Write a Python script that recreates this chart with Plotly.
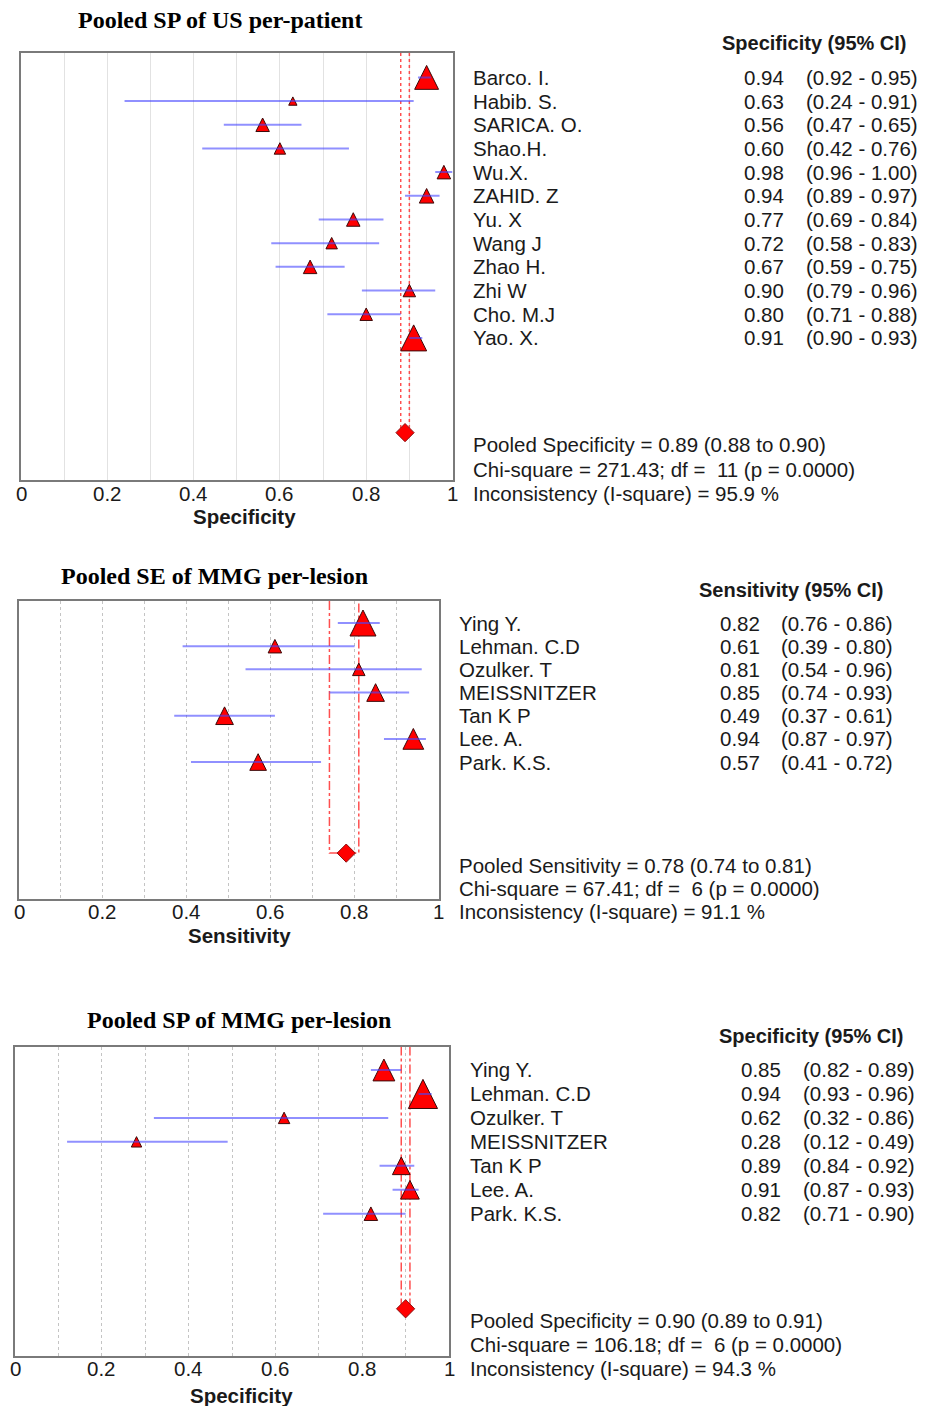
import plotly.graph_objects as go

W, H = 930, 1406

# ---------------- data ----------------
p1_names = ["Barco. I.", "Habib. S.", "SARICA. O.", "Shao.H.", "Wu.X.", "ZAHID. Z",
            "Yu. X", "Wang J", "Zhao H.", "Zhi W", "Cho. M.J", "Yao. X."]
p1_est = [0.94, 0.63, 0.56, 0.60, 0.98, 0.94, 0.77, 0.72, 0.67, 0.90, 0.80, 0.91]
p1_lo = [0.92, 0.24, 0.47, 0.42, 0.96, 0.89, 0.69, 0.58, 0.59, 0.79, 0.71, 0.90]
p1_hi = [0.95, 0.91, 0.65, 0.76, 1.00, 0.97, 0.84, 0.83, 0.75, 0.96, 0.88, 0.93]
p1_weight = [23, 8, 13, 11, 13, 14, 13, 11, 13, 12, 12, 25]
p1_pooled = [0.89, 0.88, 0.90]
p1_chi = ["271.43", "11", "0.0000"]
p1_isq = "95.9"

p2_names = ["Ying Y.", "Lehman. C.D", "Ozulker. T", "MEISSNITZER", "Tan K P", "Lee. A.", "Park. K.S."]
p2_est = [0.82, 0.61, 0.81, 0.85, 0.49, 0.94, 0.57]
p2_lo = [0.76, 0.39, 0.54, 0.74, 0.37, 0.87, 0.41]
p2_hi = [0.86, 0.80, 0.96, 0.93, 0.61, 0.97, 0.72]
p2_weight = [25, 13, 12, 17, 17, 20, 16]
p2_pooled = [0.78, 0.74, 0.81]
p2_chi = ["67.41", "6", "0.0000"]
p2_isq = "91.1"

p3_names = ["Ying Y.", "Lehman. C.D", "Ozulker. T", "MEISSNITZER", "Tan K P", "Lee. A.", "Park. K.S."]
p3_est = [0.85, 0.94, 0.62, 0.28, 0.89, 0.91, 0.82]
p3_lo = [0.82, 0.93, 0.32, 0.12, 0.84, 0.87, 0.71]
p3_hi = [0.89, 0.96, 0.86, 0.49, 0.92, 0.93, 0.90]
p3_weight = [21, 28, 11, 10, 17, 18, 13]
p3_pooled = [0.90, 0.89, 0.91]
p3_chi = ["106.18", "6", "0.0000"]
p3_isq = "94.3"

tick_vals = [0, 0.2, 0.4, 0.6, 0.8, 1]
tick_text = ["0", "0.2", "0.4", "0.6", "0.8", "1"]

# ---------------- layout config ----------------
panels = [
    dict(title="Pooled SP of US per-patient", measure="Specificity",
         names=p1_names, est=p1_est, lo=p1_lo, hi=p1_hi, wt=p1_weight,
         pooled=p1_pooled, chi=p1_chi, isq=p1_isq,
         box=(21, 452.5, 53, 480), yr=(17.0, -1.03), pooled_row=15.0,
         title_xy=(220, 20.5), tick_y=493, axtitle_xy=(244.5, 517), header_xy=(720.7, 43.3),
         names_x=472, val_x=743, ci_x=805, foot_y=[445, 469, 493],
         grid="solid", pdash="dot", bracket=False),
    dict(title="Pooled SE of MMG per-lesion", measure="Sensitivity",
         names=p2_names, est=p2_est, lo=p2_lo, hi=p2_hi, wt=p2_weight,
         pooled=p2_pooled, chi=p2_chi, isq=p2_isq,
         box=(19, 438.5, 601, 899), yr=(11.91, -0.95), pooled_row=9.93,
         title_xy=(214, 576), tick_y=911.7, axtitle_xy=(239, 935.5), header_xy=(698, 590),
         names_x=458, val_x=719, ci_x=780, foot_y=[865, 888.5, 911.7],
         grid="dot", pdash="dashdot", bracket=True),
    dict(title="Pooled SP of MMG per-lesion", measure="Specificity",
         names=p3_names, est=p3_est, lo=p3_lo, hi=p3_hi, wt=p3_weight,
         pooled=p3_pooled, chi=p3_chi, isq=p3_isq,
         box=(15, 449, 1046.5, 1356), yr=(11.94, -0.98), pooled_row=9.97,
         title_xy=(239, 1020), tick_y=1368.5, axtitle_xy=(241.5, 1395), header_xy=(717.7, 1035.7),
         names_x=469, val_x=740, ci_x=801.7, foot_y=[1320.5, 1344, 1368],
         grid="dot", pdash="dashdot", bracket=False),
]

SANS = "Liberation Sans, Arial, sans-serif"
SERIF = "Liberation Serif, Times New Roman, serif"
TXT = "#1a1a1a"
FS = 20.5

def px(x):
    return x / W

def py(y):
    return 1 - y / H

fig = go.Figure()
annotations = []

for k, p in enumerate(panels, start=1):
    xa = "x" if k == 1 else f"x{k}"
    ya = "y" if k == 1 else f"y{k}"
    n = len(p["names"])
    rows = list(range(n))
    x0, x1, y0, y1 = p["box"]
    yb, yt = p["yr"]
    plot_w = x1 - x0
    row_px = (y1 - y0) / (yb - yt)

    # pooled CI vertical lines
    pe, plo, phi = p["pooled"]
    if p["bracket"]:
        vx = [plo, plo, phi, phi]
        vy = [yt, p["pooled_row"], p["pooled_row"], yt]
    else:
        vx = [plo, plo, None, phi, phi]
        vy = [yt, p["pooled_row"], None, yt, p["pooled_row"]]
    fig.add_trace(go.Scatter(x=vx, y=vy, mode="lines", xaxis=xa, yaxis=ya,
                             line=dict(color="rgba(255,60,60,0.9)", width=1.5, dash=p["pdash"]),
                             hoverinfo="skip", showlegend=False))

    # study triangles (size ~ study weight, drawn in axis units)
    tx, ty = [], []
    for i in rows:
        w = p["wt"][i] * 1.04
        dx = (w / 2) / plot_w
        dy = (w / 2) / row_px
        e = p["est"][i]
        tx += [e - dx, e + dx, e, e - dx, None]
        ty += [i + dy, i + dy, i - dy, i + dy, None]
    fig.add_trace(go.Scatter(x=tx, y=ty, mode="lines", fill="toself", xaxis=xa, yaxis=ya,
                             fillcolor="#ff0000", line=dict(color="#3c0a0a", width=1),
                             hoverinfo="skip", showlegend=False))
    # CI lines
    cx, cy = [], []
    for i in rows:
        cx += [p["lo"][i], p["hi"][i], None]
        cy += [i, i, None]
    fig.add_trace(go.Scatter(x=cx, y=cy, mode="lines", xaxis=xa, yaxis=ya,
                             line=dict(color="rgba(70,70,255,0.6)", width=2),
                             hoverinfo="skip", showlegend=False))
    # pooled diamond
    fig.add_trace(go.Scatter(x=[pe], y=[p["pooled_row"]], mode="markers", xaxis=xa, yaxis=ya,
                             marker=dict(symbol="diamond", size=14, color="#ff0000",
                                         line=dict(color="#8a1010", width=1)),
                             showlegend=False))

    gridcol = "#e2e2e2" if p["grid"] == "solid" else "#c4c4c4"
    fig.update_layout(**{
        ("xaxis" if k == 1 else f"xaxis{k}"): dict(
            domain=[px(x0), px(x1)], anchor=ya, range=[0, 1],
            tickvals=tick_vals, showticklabels=False, ticks="",
            showgrid=True, gridcolor=gridcol, griddash=p["grid"], gridwidth=1,
            minor=dict(dtick=0.1, tick0=0, showgrid=True, gridcolor=gridcol,
                       griddash=p["grid"], gridwidth=1),
            zeroline=False, showline=True, linecolor="#7a7a7a", linewidth=2, mirror=True,
            fixedrange=True),
        ("yaxis" if k == 1 else f"yaxis{k}"): dict(
            domain=[py(y1), py(y0)], anchor=xa, range=[yb, yt],
            showticklabels=False, showgrid=False, zeroline=False, ticks="",
            showline=True, linecolor="#7a7a7a", linewidth=2, mirror=True, fixedrange=True),
    })

    # tick labels
    for tv, tt in zip(tick_vals, tick_text):
        annotations.append(dict(text=tt, x=tv, y=py(p["tick_y"]), xref=xa, yref="paper",
                                xanchor="center", yanchor="middle", showarrow=False, borderpad=0,
                                font=dict(family=SANS, size=FS, color=TXT)))
    # title
    annotations.append(dict(text=f"<b>{p['title']}</b>", x=px(p["title_xy"][0]), y=py(p["title_xy"][1]),
                            xref="paper", yref="paper", xanchor="center", yanchor="middle",
                            showarrow=False, font=dict(family=SERIF, size=24, color="#000")))
    # axis title
    annotations.append(dict(text=f"<b>{p['measure']}</b>", x=px(p["axtitle_xy"][0]), y=py(p["axtitle_xy"][1]),
                            xref="paper", yref="paper", xanchor="center", yanchor="middle",
                            showarrow=False, borderpad=0, font=dict(family=SANS, size=FS, color=TXT)))
    # header
    annotations.append(dict(text=f"<b>{p['measure']} (95% CI)</b>", x=px(p["header_xy"][0]),
                            y=py(p["header_xy"][1]), xref="paper", yref="paper",
                            xanchor="left", yanchor="middle", showarrow=False, borderpad=0,
                            font=dict(family=SANS, size=20, color=TXT)))
    # study rows
    for i in rows:
        for txt, xx in [(p["names"][i], p["names_x"]),
                        (f"{p['est'][i]:.2f}", p["val_x"]),
                        (f"({p['lo'][i]:.2f} - {p['hi'][i]:.2f})", p["ci_x"])]:
            annotations.append(dict(text=txt, x=px(xx), y=i, xref="paper", yref=ya,
                                    xanchor="left", yanchor="middle", showarrow=False, borderpad=0,
                                    font=dict(family=SANS, size=FS, color=TXT)))
    # footer
    foot = [f"Pooled {p['measure']} = {pe:.2f} ({plo:.2f} to {phi:.2f})",
            f"Chi-square = {p['chi'][0]}; df =\u00a0 {p['chi'][1]} (p = {p['chi'][2]})",
            f"Inconsistency (I-square) = {p['isq']} %"]
    for txt, yy in zip(foot, p["foot_y"]):
        annotations.append(dict(text=txt, x=px(p["names_x"]), y=py(yy), xref="paper", yref="paper",
                                xanchor="left", yanchor="middle", showarrow=False, borderpad=0,
                                font=dict(family=SANS, size=FS, color=TXT)))

fig.update_layout(width=W, height=H, margin=dict(l=0, r=0, t=0, b=0),
                  paper_bgcolor="white", plot_bgcolor="white",
                  annotations=annotations, showlegend=False)

fig.write_html("out.html", config={"displayModeBar": False},
               post_script="document.body.style.margin='0px';document.body.style.overflow='hidden';")
